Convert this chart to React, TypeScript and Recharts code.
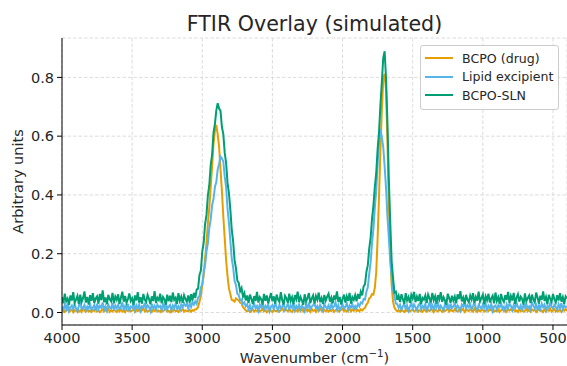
import { LineChart, Line, XAxis, YAxis, CartesianGrid } from "recharts";

// spectra sampled every 10 cm-1, from 4000 down to 400
const wavenumberStart = 4000;
const wavenumberStep = 10;

const drugBCPO = [
  0.004, 0.009, 0.002, 0.007, 0.012, 0.003, 0.006, 0.010, 0.001, 0.008,
  0.005, 0.011, 0.003, 0.008, 0.002, 0.014, 0.006, 0.004, 0.009, 0.003,
  0.007, 0.002, 0.010, 0.005, 0.013, 0.004, 0.008, 0.001, 0.006, 0.011,
  0.003, 0.008, 0.005, 0.016, 0.002, 0.007, 0.004, 0.010, 0.006, 0.002,
  0.009, 0.004, 0.012, 0.003, 0.007, 0.001, 0.011, 0.005, 0.008, 0.004,
  0.006, 0.013, 0.002, 0.009, 0.005, 0.010, 0.003, 0.007, 0.015, 0.004,
  0.008, 0.003, 0.006, 0.011, 0.002, 0.009, 0.005, 0.012, 0.004, 0.007,
  0.002, 0.010, 0.005, 0.008, 0.013, 0.003, 0.006, 0.001, 0.009, 0.005,
  0.011, 0.004, 0.007, 0.002, 0.010, 0.006, 0.014, 0.003, 0.008, 0.005,
  0.004, 0.009, 0.003, 0.008, 0.006, 0.011, 0.012, 0.018, 0.037, 0.057,
  0.093, 0.127, 0.184, 0.236, 0.304, 0.357, 0.426, 0.497, 0.574, 0.617,
  0.638, 0.606, 0.563, 0.487, 0.414, 0.326, 0.253, 0.177, 0.124, 0.082,
  0.063, 0.043, 0.041, 0.037, 0.048, 0.044, 0.042, 0.033, 0.031, 0.019,
  0.013, 0.007, 0.004, 0.009, 0.002, 0.006, 0.011, 0.003, 0.008, 0.005,
  0.010, 0.003, 0.007, 0.012, 0.004, 0.008, 0.001, 0.006, 0.013, 0.005,
  0.002, 0.009, 0.006, 0.004, 0.011, 0.003, 0.008, 0.014, 0.005, 0.007,
  0.009, 0.004, 0.012, 0.006, 0.002, 0.010, 0.005, 0.008, 0.003, 0.011,
  0.005, 0.013, 0.003, 0.007, 0.010, 0.004, 0.009, 0.002, 0.012, 0.006,
  0.008, 0.002, 0.011, 0.005, 0.015, 0.006, 0.003, 0.009, 0.004, 0.010,
  0.003, 0.007, 0.005, 0.012, 0.002, 0.008, 0.011, 0.004, 0.006, 0.009,
  0.012, 0.005, 0.009, 0.003, 0.007, 0.013, 0.004, 0.010, 0.006, 0.014,
  0.005, 0.009, 0.004, 0.011, 0.007, 0.012, 0.016, 0.027, 0.033, 0.048,
  0.052, 0.063, 0.061, 0.084, 0.137, 0.253, 0.396, 0.553, 0.688, 0.793,
  0.812, 0.757, 0.584, 0.362, 0.198, 0.093, 0.036, 0.017, 0.009, 0.004,
  0.008, 0.003, 0.011, 0.006, 0.002, 0.009, 0.005, 0.013, 0.004, 0.007,
  0.010, 0.004, 0.007, 0.014, 0.003, 0.008, 0.005, 0.002, 0.011, 0.006,
  0.003, 0.009, 0.005, 0.012, 0.007, 0.001, 0.010, 0.006, 0.004, 0.013,
  0.007, 0.002, 0.011, 0.005, 0.008, 0.015, 0.003, 0.009, 0.006, 0.004,
  0.012, 0.006, 0.003, 0.010, 0.004, 0.008, 0.013, 0.002, 0.007, 0.009,
  0.005, 0.011, 0.008, 0.003, 0.014, 0.006, 0.002, 0.010, 0.004, 0.008,
  0.009, 0.003, 0.006, 0.012, 0.005, 0.010, 0.007, 0.016, 0.003, 0.006,
  0.004, 0.010, 0.002, 0.008, 0.011, 0.005, 0.009, 0.003, 0.013, 0.007,
  0.011, 0.006, 0.009, 0.004, 0.007, 0.002, 0.012, 0.005, 0.008, 0.003,
  0.006, 0.013, 0.004, 0.009, 0.003, 0.011, 0.006, 0.010, 0.002, 0.008,
  0.010, 0.005, 0.007, 0.002, 0.012, 0.004, 0.009, 0.006, 0.014, 0.003,
  0.007, 0.011, 0.003, 0.008, 0.005, 0.010, 0.002, 0.009, 0.006, 0.012,
  0.005,
];

const lipidExcipient = [
  0.021, 0.008, 0.027, 0.013, 0.031, 0.006, 0.019, 0.024, 0.010, 0.029,
  0.015, 0.004, 0.022, 0.033, 0.011, 0.018, 0.026, 0.007, 0.020, 0.014,
  0.028, 0.009, 0.017, 0.025, 0.005, 0.030, 0.012, 0.023, 0.016, 0.034,
  0.010, 0.021, 0.006, 0.027, 0.018, 0.013, 0.032, 0.008, 0.024, 0.015,
  0.026, 0.011, 0.019, 0.035, 0.007, 0.022, 0.014, 0.029, 0.004, 0.020,
  0.017, 0.031, 0.009, 0.024, 0.013, 0.028, 0.006, 0.021, 0.016, 0.033,
  0.012, 0.025, 0.019, 0.005, 0.030, 0.014, 0.023, 0.010, 0.027, 0.018,
  0.022, 0.008, 0.029, 0.015, 0.034, 0.011, 0.020, 0.026, 0.007, 0.024,
  0.016, 0.030, 0.013, 0.021, 0.009, 0.027, 0.018, 0.032, 0.023, 0.028,
  0.014, 0.031, 0.019, 0.036, 0.027, 0.038, 0.029, 0.051, 0.055, 0.086,
  0.094, 0.137, 0.161, 0.208, 0.236, 0.287, 0.316, 0.365, 0.386, 0.427,
  0.444, 0.487, 0.506, 0.531, 0.524, 0.514, 0.463, 0.426, 0.354, 0.305,
  0.246, 0.183, 0.154, 0.109, 0.094, 0.064, 0.059, 0.041, 0.044, 0.030,
  0.034, 0.021, 0.028, 0.012, 0.025, 0.008, 0.019, 0.030, 0.014, 0.022,
  0.006, 0.027, 0.017, 0.031, 0.010, 0.023, 0.015, 0.028, 0.005, 0.020,
  0.025, 0.012, 0.033, 0.018, 0.007, 0.026, 0.014, 0.021, 0.029, 0.009,
  0.019, 0.030, 0.011, 0.024, 0.016, 0.032, 0.008, 0.022, 0.013, 0.027,
  0.010, 0.023, 0.018, 0.005, 0.028, 0.015, 0.034, 0.012, 0.020, 0.025,
  0.031, 0.014, 0.022, 0.009, 0.026, 0.017, 0.006, 0.029, 0.019, 0.013,
  0.024, 0.008, 0.030, 0.016, 0.021, 0.035, 0.011, 0.025, 0.007, 0.018,
  0.027, 0.013, 0.020, 0.032, 0.009, 0.024, 0.017, 0.028, 0.012, 0.022,
  0.015, 0.029, 0.021, 0.034, 0.031, 0.046, 0.044, 0.071, 0.086, 0.131,
  0.171, 0.236, 0.284, 0.357, 0.414, 0.506, 0.574, 0.624, 0.597, 0.563,
  0.497, 0.424, 0.326, 0.254, 0.176, 0.123, 0.076, 0.054, 0.031, 0.028,
  0.016, 0.026, 0.009, 0.021, 0.030, 0.012, 0.024, 0.006, 0.019, 0.033,
  0.014, 0.027, 0.018, 0.008, 0.025, 0.031, 0.011, 0.022, 0.016, 0.029,
  0.005, 0.020, 0.034, 0.013, 0.024, 0.010, 0.028, 0.017, 0.032, 0.012,
  0.023, 0.015, 0.007, 0.029, 0.019, 0.026, 0.009, 0.031, 0.014, 0.021,
  0.030, 0.011, 0.024, 0.017, 0.006, 0.027, 0.020, 0.033, 0.013, 0.025,
  0.018, 0.028, 0.010, 0.022, 0.035, 0.015, 0.008, 0.026, 0.019, 0.012,
  0.027, 0.016, 0.031, 0.009, 0.023, 0.014, 0.029, 0.006, 0.021, 0.024,
  0.011, 0.025, 0.018, 0.032, 0.013, 0.020, 0.007, 0.028, 0.016, 0.030,
  0.022, 0.008, 0.026, 0.015, 0.033, 0.019, 0.012, 0.024, 0.005, 0.027,
  0.017, 0.029, 0.013, 0.021, 0.010, 0.034, 0.023, 0.014, 0.026, 0.009,
  0.025, 0.012, 0.030, 0.018, 0.027, 0.007, 0.022, 0.016, 0.031, 0.020,
  0.013, 0.026, 0.019, 0.008, 0.028, 0.015, 0.032, 0.011, 0.024, 0.018,
  0.021,
];

const bcpoSLN = [
  0.052, 0.031, 0.064, 0.038, 0.047, 0.026, 0.058, 0.041, 0.069, 0.033,
  0.044, 0.057, 0.029, 0.061, 0.036, 0.049, 0.072, 0.034, 0.053, 0.027,
  0.059, 0.040, 0.066, 0.032, 0.048, 0.055, 0.030, 0.063, 0.042, 0.075,
  0.035, 0.051, 0.028, 0.060, 0.045, 0.038, 0.067, 0.031, 0.054, 0.043,
  0.062, 0.029, 0.050, 0.071, 0.037, 0.056, 0.033, 0.046, 0.065, 0.039,
  0.048, 0.026, 0.058, 0.041, 0.069, 0.034, 0.052, 0.030, 0.063, 0.044,
  0.036, 0.060, 0.047, 0.028, 0.055, 0.039, 0.073, 0.032, 0.050, 0.042,
  0.064, 0.031, 0.053, 0.045, 0.027, 0.061, 0.038, 0.057, 0.035, 0.068,
  0.043, 0.050, 0.029, 0.066, 0.040, 0.054, 0.033, 0.059, 0.046, 0.037,
  0.058, 0.034, 0.062, 0.041, 0.067, 0.049, 0.078, 0.081, 0.128, 0.143,
  0.207, 0.238, 0.301, 0.332, 0.398, 0.433, 0.501, 0.536, 0.612, 0.641,
  0.688, 0.712, 0.694, 0.686, 0.631, 0.607, 0.543, 0.508, 0.441, 0.406,
  0.351, 0.283, 0.242, 0.179, 0.151, 0.108, 0.101, 0.072, 0.083, 0.054,
  0.066, 0.041, 0.058, 0.032, 0.061, 0.047, 0.029, 0.056, 0.039, 0.070,
  0.034, 0.052, 0.045, 0.027, 0.063, 0.040, 0.058, 0.031, 0.049, 0.066,
  0.038, 0.055, 0.030, 0.061, 0.044, 0.036, 0.069, 0.042, 0.027, 0.057,
  0.048, 0.033, 0.064, 0.039, 0.052, 0.028, 0.059, 0.045, 0.071, 0.035,
  0.053, 0.041, 0.026, 0.062, 0.037, 0.050, 0.066, 0.032, 0.047, 0.058,
  0.030, 0.056, 0.043, 0.068, 0.035, 0.049, 0.029, 0.060, 0.040, 0.054,
  0.064, 0.037, 0.051, 0.031, 0.058, 0.044, 0.072, 0.036, 0.053, 0.027,
  0.046, 0.061, 0.034, 0.055, 0.040, 0.067, 0.030, 0.052, 0.043, 0.059,
  0.038, 0.063, 0.047, 0.071, 0.058, 0.089, 0.096, 0.138, 0.161, 0.217,
  0.254, 0.318, 0.364, 0.427, 0.474, 0.556, 0.614, 0.707, 0.783, 0.866,
  0.889, 0.796, 0.646, 0.452, 0.307, 0.174, 0.117, 0.068, 0.071, 0.043,
  0.057, 0.036, 0.062, 0.045, 0.029, 0.066, 0.041, 0.053, 0.033, 0.060,
  0.047, 0.070, 0.035, 0.054, 0.039, 0.063, 0.028, 0.050, 0.044, 0.058,
  0.032, 0.061, 0.048, 0.037, 0.067, 0.042, 0.055, 0.030, 0.059, 0.045,
  0.069, 0.036, 0.052, 0.041, 0.027, 0.064, 0.049, 0.033, 0.057, 0.040,
  0.054, 0.031, 0.062, 0.046, 0.073, 0.038, 0.051, 0.029, 0.060, 0.043,
  0.035, 0.058, 0.044, 0.066, 0.032, 0.053, 0.040, 0.071, 0.037, 0.049,
  0.061, 0.028, 0.055, 0.042, 0.064, 0.034, 0.048, 0.057, 0.031, 0.068,
  0.039, 0.052, 0.030, 0.063, 0.045, 0.036, 0.059, 0.043, 0.070, 0.033,
  0.056, 0.041, 0.067, 0.029, 0.050, 0.062, 0.037, 0.054, 0.046, 0.027,
  0.065, 0.038, 0.049, 0.058, 0.032, 0.061, 0.044, 0.035, 0.068, 0.051,
  0.030, 0.057, 0.043, 0.072, 0.039, 0.053, 0.028, 0.060, 0.047, 0.036,
  0.063, 0.045, 0.034, 0.059, 0.041, 0.066, 0.037, 0.052, 0.029, 0.055,
  0.048,
];

const xTicks = [4000, 3500, 3000, 2500, 2000, 1500, 1000, 500];
const yTicks = [0, 0.2, 0.4, 0.6, 0.8];

const series = [
  { key: "drug", label: "BCPO (drug)", color: "#E69F00" },
  { key: "lipid", label: "Lipid excipient", color: "#56B4E9" },
  { key: "sln", label: "BCPO-SLN", color: "#009E73" },
];

const data = drugBCPO.map((v, i) => ({
  wavenumber: wavenumberStart - i * wavenumberStep,
  drug: v,
  lipid: lipidExcipient[i],
  sln: bcpoSLN[i],
}));

const FONT = "'DejaVu Sans', sans-serif";
const tickStyle = { fontSize: 14.5, fill: "#262626", fontFamily: FONT };

export default function App() {
  return (
    <div style={{ position: "absolute", left: 0, top: 0, width: 567, height: 366, background: "#fff", fontFamily: FONT }}>
      <LineChart width={567} height={366} data={data} margin={{ top: 38, right: 0, bottom: 0, left: 0 }}>
        <CartesianGrid stroke="#d3d3d3" strokeDasharray="3.5 2" strokeWidth={0.8} />
        <XAxis
          dataKey="wavenumber"
          type="number"
          domain={[400, 4000]}
          reversed
          ticks={xTicks}
          height={41}
          tick={tickStyle}
          tickSize={5}
          tickMargin={3}
          stroke="#000"
          allowDataOverflow
        />
        <YAxis
          type="number"
          domain={[-0.0425, 0.934]}
          ticks={yTicks}
          width={62}
          tick={tickStyle}
          tickSize={5}
          tickMargin={3}
          tickFormatter={(v: number) => v.toFixed(1)}
          stroke="#000"
          allowDataOverflow
        />
        {series.map((s) => (
          <Line
            key={s.key}
            dataKey={s.key}
            name={s.label}
            stroke={s.color}
            strokeWidth={2}
            strokeLinejoin="miter"
            dot={false}
            isAnimationActive={false}
          />
        ))}
      </LineChart>

      <svg width={567} height={366} style={{ position: "absolute", left: 0, top: 0, pointerEvents: "none" }}>
        <text x={314.5} y={30.7} textAnchor="middle" fontSize={20.6} fill="#262626" fontFamily={FONT}>
          FTIR Overlay (simulated)
        </text>
        <text x={314.5} y={363} textAnchor="middle" fontSize={14.5} fill="#262626" fontFamily={FONT}>
          Wavenumber (cm
          <tspan dy={-6} fontSize={10.2}>−1</tspan>
          <tspan dy={6}>)</tspan>
        </text>
        <text
          x={0}
          y={0}
          transform="translate(22.5,181.5) rotate(-90)"
          textAnchor="middle"
          fontSize={14.5}
          fill="#262626"
          fontFamily={FONT}
        >
          Arbitrary units
        </text>
      </svg>

      <div
        style={{
          position: "absolute",
          left: 420,
          top: 45,
          width: 139,
          boxSizing: "border-box",
          padding: "3px 0 4px 4px",
          border: "1px solid #cccccc",
          borderRadius: 3,
          background: "rgba(255,255,255,0.85)",
          fontSize: 12.6,
          color: "#262626",
        }}
      >
        {series.map((s) => (
          <div key={s.key} style={{ display: "flex", alignItems: "center", height: 18.6 }}>
            <svg width={28} height={4} style={{ flex: "none" }}>
              <line x1={0} x2={28} y1={2} y2={2} stroke={s.color} strokeWidth={2} />
            </svg>
            <span style={{ marginLeft: 9, whiteSpace: "nowrap" }}>{s.label}</span>
          </div>
        ))}
      </div>
    </div>
  );
}
